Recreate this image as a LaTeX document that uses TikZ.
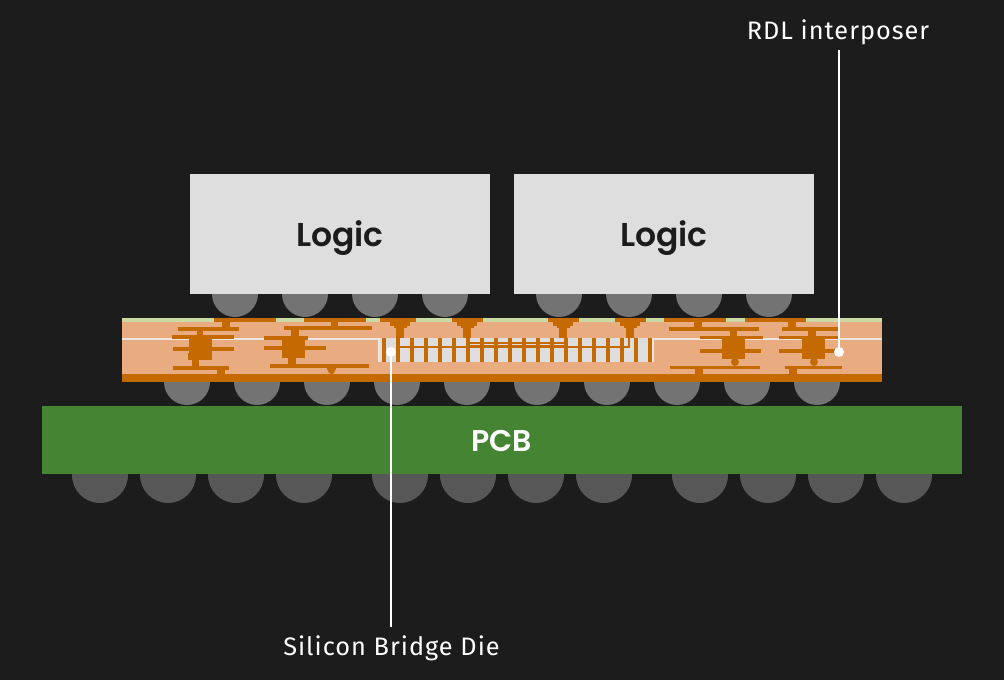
\documentclass[tikz,border=0pt]{standalone}
\usepackage{fontspec}
\setmainfont{Fira Sans}
\newfontfamily\headfont[BoldFont=Poppins SemiBold]{Poppins}
\definecolor{bg}{HTML}{1C1C1C}
\definecolor{lgc}{HTML}{DEDEDE}
\definecolor{bump}{HTML}{737373}
\definecolor{ball}{HTML}{575757}
\definecolor{pcbc}{HTML}{458433}
\definecolor{body}{HTML}{E8AC80}
\definecolor{cu}{HTML}{C56A00}
\definecolor{mask}{HTML}{CBD9A5}
\definecolor{wline}{HTML}{EDE6E0}
\newcommand{\cub}[4]{\fill[cu] (#1,#2) rectangle (#3,#4);}
\newcommand{\pad}[1]{%
  \fill[cu] (#1-15.5,318) rectangle (#1+15.5,322);
  \fill[cu] (#1-10,322) rectangle (#1+10,326);
  \fill[cu] (#1-6.5,326) rectangle (#1+6.5,328);
  \fill[cu] (#1-4,328) rectangle (#1+4,338);}
\tikzset{
  blockbox/.style={fill=lgc,minimum width=300pt,minimum height=120pt,inner sep=0pt},
  blocktext/.style={inner sep=0pt,font=\headfont\bfseries\fontsize{33}{33}\selectfont,text=bg},
  pcbbox/.style={fill=pcbc,minimum width=920pt,minimum height=68pt,inner sep=0pt},
  callout/.style={text=white,inner sep=0pt,font=\fontsize{25.3}{25.3}\selectfont},
  leader/.style={draw=white,line width=2pt},
  dotmark/.style={circle,fill=white,minimum size=10pt,inner sep=0pt}
}
\begin{document}
\begin{tikzpicture}[x=1pt,y=-1pt]
\fill[bg] (0,0) rectangle (1004,680);
\useasboundingbox (0,0) rectangle (1004,680);
% balls and bumps
\foreach \x in {100,168,236,304,400,468,536,604,700,768,836,904}
  \fill[ball] (\x,475) circle[radius=28];
\foreach \x in {187,257,327,397,467,537,607,677,747,817}
  \fill[bump] (\x,382) circle[radius=23];
\foreach \x in {235,305,375,445,559,629,699,769}
  \fill[bump] (\x,294) circle[radius=23];
% main blocks
\node[blockbox] (logicA) at (340,234) {};
\node[blockbox] (logicB) at (664,234) {};
\node[blocktext] (logicAtext) at (340,238.5) {Logic};
\node[blocktext] (logicBtext) at (664,238.5) {Logic};
\node[pcbbox] (pcb) at (502,440) {};
\node[text=white,inner sep=0pt,font=\headfont\bfseries\fontsize{30}{30}\selectfont] (pcbtext) at (501.5,441) {PCB};
% interposer
\fill[body] (122,318) rectangle (882,382);
\fill[mask] (122,318) rectangle (882,322);
\fill[cu] (122,374) rectangle (882,382);
% rdl white line
\fill[wline] (122,338) rectangle (378,340);
\fill[wline] (654,338) rectangle (882,340);
% bridge die
\fill[lgc] (378,338) rectangle (654,362);
\fill[wline] (378,338) rectangle (380,362);
\fill[wline] (652,338) rectangle (654,362);
\foreach \x in {384,398,...,650}
  \fill[cu] (\x-1.7,338) rectangle (\x+1.7,362);
\fill[cu] (398,346) rectangle (630,348);
\fill[cu] (468,342) rectangle (566,343.5);
\fill[cu] (468,345) rectangle (566,346);
\fill[cu] (628,338) rectangle (630,348);
\pad{400}\pad{467}\pad{563}\pad{630}
% left structure 1
\cub{214}{318}{276}{322}
\cub{222}{322}{230}{327}
\cub{178}{327}{239}{331}
\cub{197}{331}{203}{335}
\cub{172}{335}{234}{339}
\cub{189}{335}{212}{353}
\cub{173}{347}{234}{351}
\cub{188}{353}{212}{360}
\cub{192}{360}{199}{366}
\cub{173}{366}{229}{370}
\cub{217}{370}{225}{374}
% left structure 2
\cub{304}{318}{366}{322}
\cub{331}{322}{338}{326}
\cub{284}{326}{372}{330}
\cub{291}{330}{299}{336}
\cub{264}{336}{308}{340}
\cub{282}{336}{305}{358}
\cub{264}{346}{326}{350}
\cub{288}{358}{296}{364}
\cub{270}{364}{369}{368}
\fill[cu] (331.5,370.5) circle[radius=3.6];
\cub{327}{368}{336}{370}
\cub{380}{318}{390}{322}
% right structure 1
\cub{664}{318}{726}{322}
\cub{694}{322}{702}{327}
\cub{669}{327}{759}{331}
\cub{730}{331}{737}{336}
\cub{700}{336}{763}{339}
\cub{722}{336}{745}{359}
\cub{700}{349}{761}{353}
\fill[cu] (735,362) circle[radius=4];
\cub{670}{366}{760}{369}
\cub{695}{369}{703}{374}
% right structure 2
\cub{745}{318}{806}{322}
\cub{788}{322}{796}{327}
\cub{782}{327}{838}{331}
\cub{808}{331}{816}{336}
\cub{779}{336}{838}{339}
\cub{802}{336}{825}{359}
\cub{779}{349}{837}{353}
\fill[cu] (814,362) circle[radius=4];
\cub{785}{366}{842}{369}
\cub{789}{369}{797}{374}
% callouts
\node[dotmark] (dotSi) at (391,352) {};
\node[dotmark] (dotRdl) at (839,352) {};
\coordinate (endSi) at (391,627);
\coordinate (endRdl) at (839,50);
\draw[leader] (dotSi.center) -- (endSi);
\draw[leader] (dotRdl.center) -- (endRdl);
\node[callout] (lblRdl) at (838,32.5) {\addfontfeatures{LetterSpace=4}RDL interposer};
\node[callout] (lblSi) at (391.5,648.5) {\addfontfeatures{LetterSpace=4}Silicon Bridge Die};
\end{tikzpicture}
\end{document}
